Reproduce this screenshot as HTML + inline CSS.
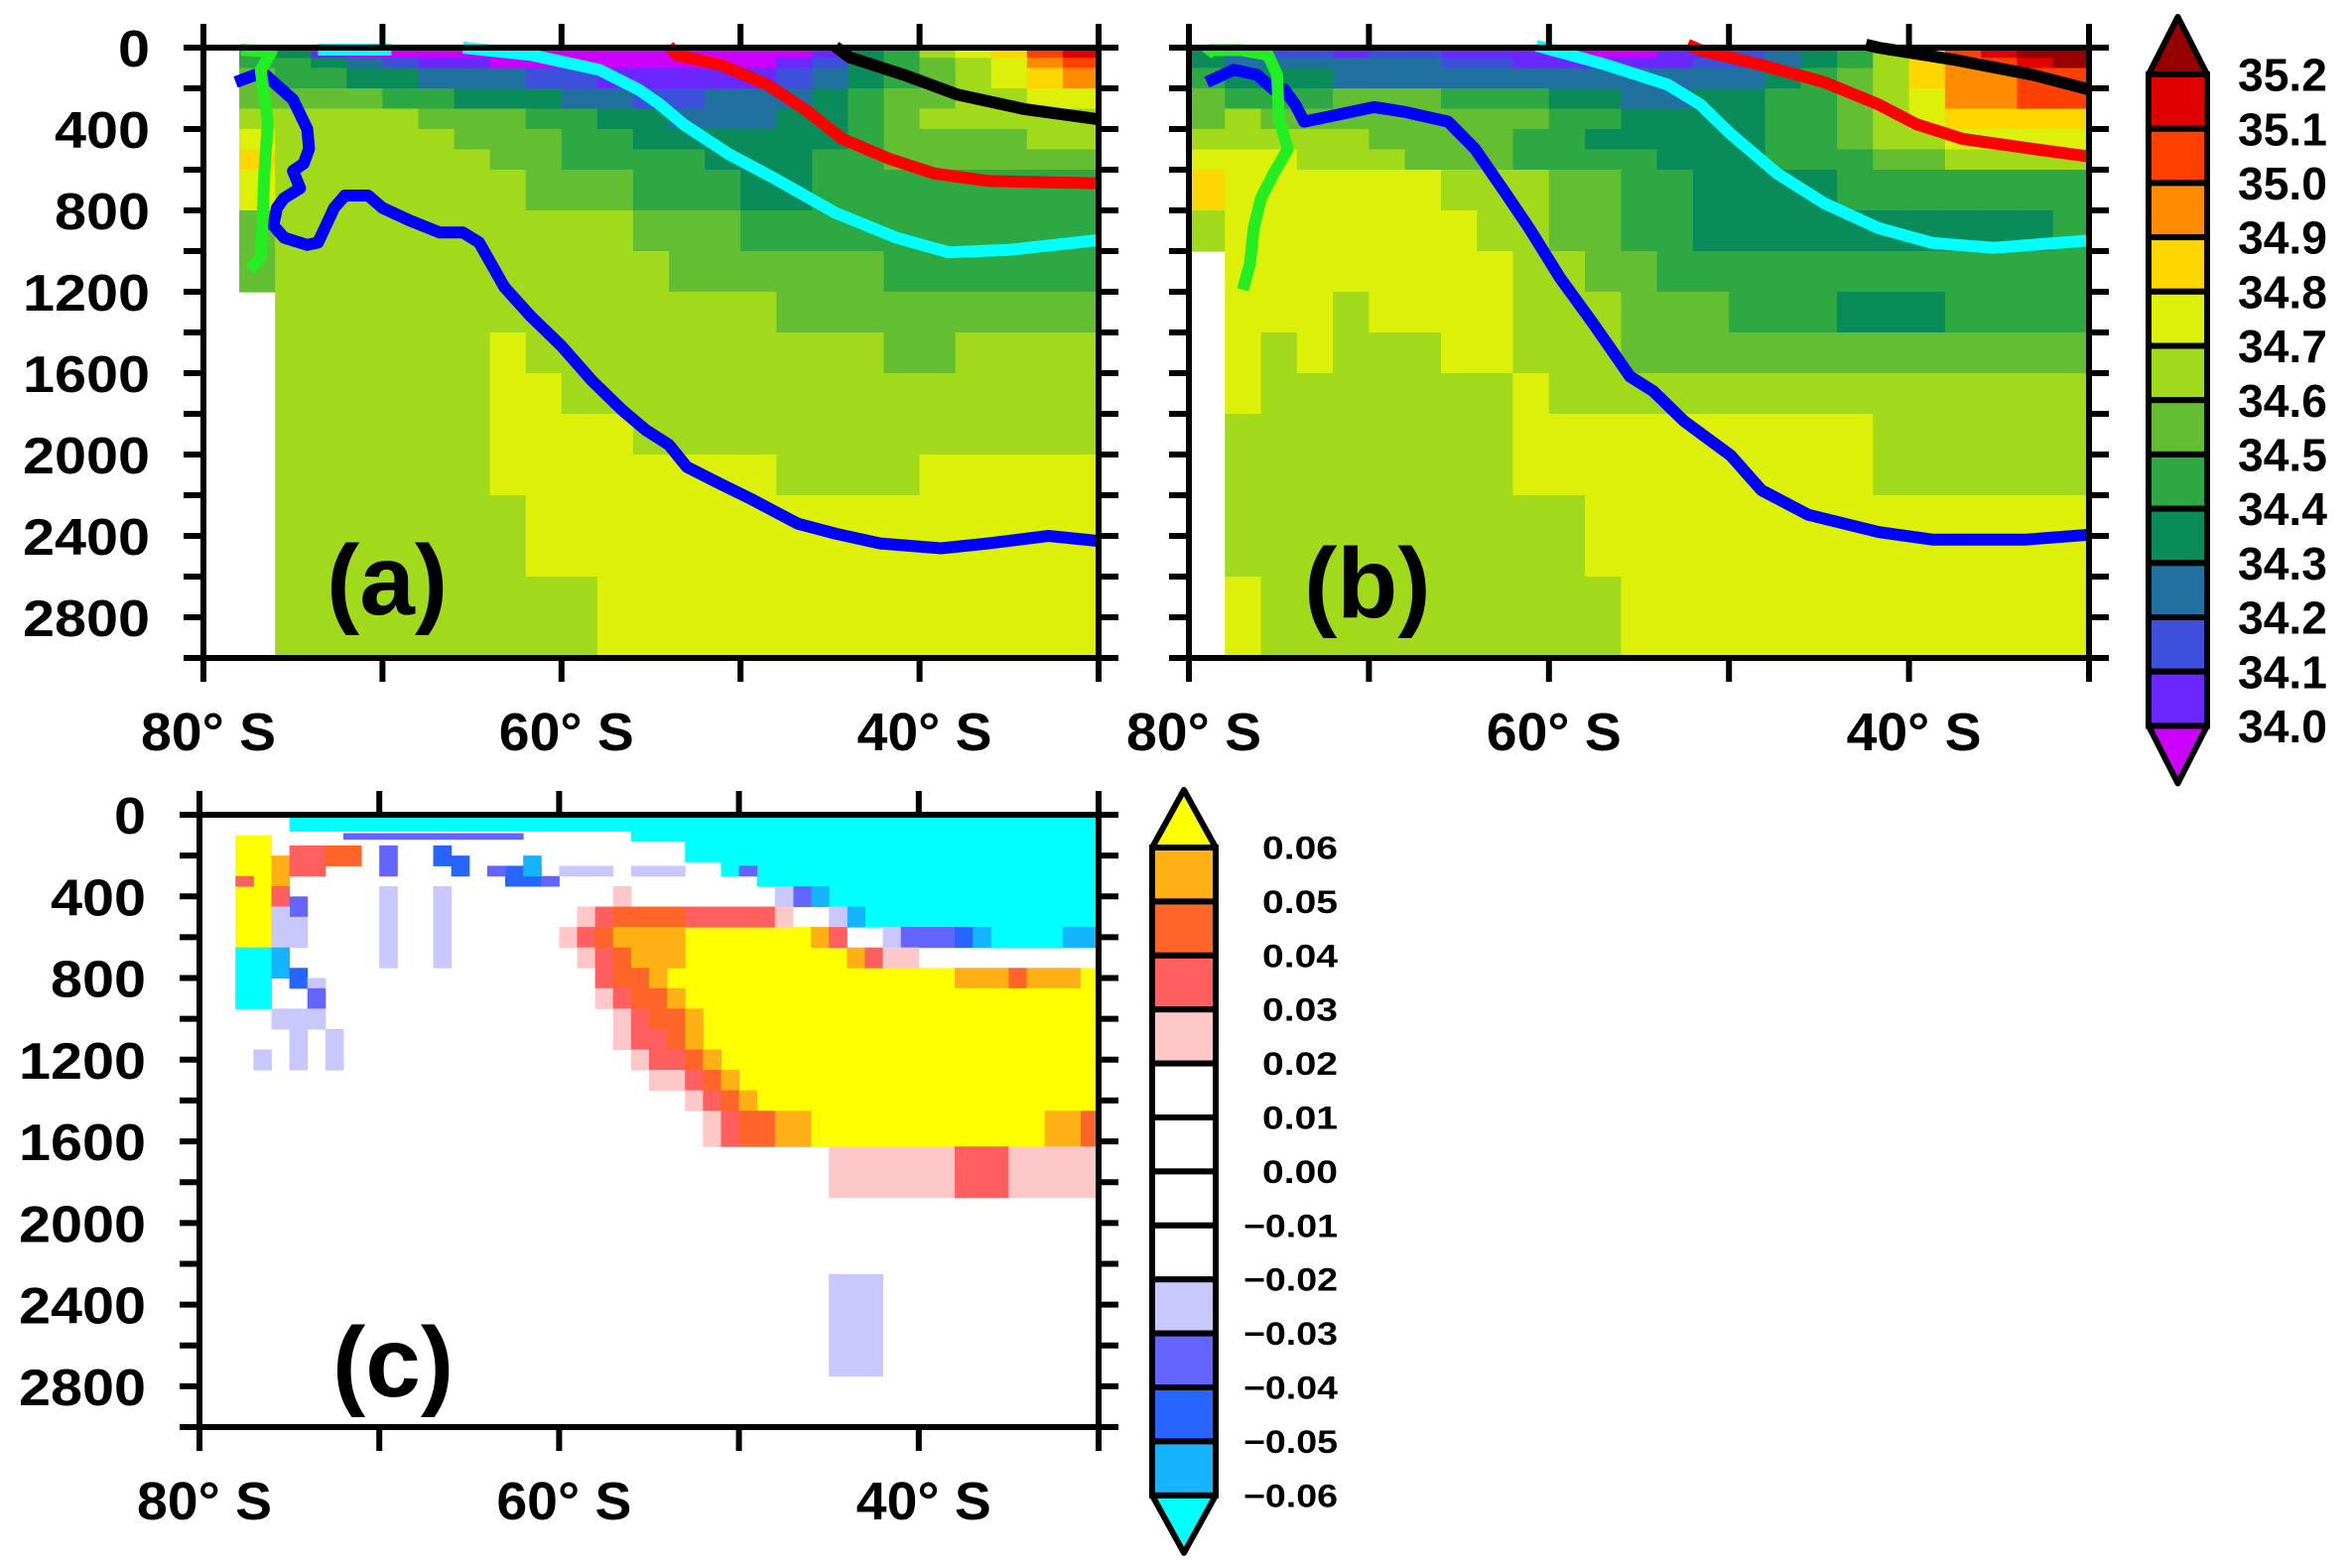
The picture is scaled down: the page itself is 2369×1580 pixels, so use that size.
<!DOCTYPE html>
<html><head><meta charset="utf-8"><style>
html,body{margin:0;padding:0;background:#fff;}
svg{display:block;font-family:"Liberation Sans",sans-serif;font-weight:bold;}
</style></head><body>
<svg id="fig" xmlns="http://www.w3.org/2000/svg" width="2369" height="1580" viewBox="0 0 2369 1580"></svg>
<script>
const N=null;
const latEdges=[80,78,76,74,72,70,68,66,64,62,60,58,56,54,52,50,48,46,44,42,40,38,36,34,32,30];
const depthEdges=[0,50,100,200,300,400,500,600,800,1000,1200,1400,1600,1800,2000,2200,2400,2600,3000];
const yTicks=[0,400,800,1200,1600,2000,2400,2800];
const xTickLabels=[80,60,40];
const salLevels=[35.2,35.1,35.0,34.9,34.8,34.7,34.6,34.5,34.4,34.3,34.2,34.1,34.0];
const anomLevels=[0.06,0.05,0.04,0.03,0.02,0.01,0.00,-0.01,-0.02,-0.03,-0.04,-0.05,-0.06];
const salA=[
[N,34.45,34.35,34.05,33.95,33.95,33.95,33.95,33.95,33.95,33.95,33.95,33.95,33.95,33.95,33.95,33.95,34.05,34.35,34.45,34.65,34.75,34.85,35.05,35.15],
[N,34.45,34.45,34.35,34.25,34.15,34.05,34.05,33.95,33.95,33.95,33.95,33.95,33.95,33.95,33.95,34.05,34.15,34.35,34.45,34.55,34.65,34.75,34.95,35.05],
[N,34.55,34.45,34.45,34.35,34.35,34.25,34.25,34.25,34.15,34.15,34.05,34.05,34.05,34.05,34.05,34.15,34.25,34.35,34.45,34.55,34.65,34.75,34.85,34.95],
[N,34.55,34.55,34.55,34.55,34.45,34.45,34.35,34.35,34.35,34.25,34.25,34.15,34.15,34.25,34.25,34.25,34.35,34.45,34.55,34.55,34.65,34.65,34.75,34.75],
[N,34.65,34.65,34.65,34.65,34.65,34.55,34.55,34.55,34.45,34.45,34.35,34.35,34.25,34.25,34.25,34.35,34.35,34.45,34.55,34.65,34.65,34.65,34.65,34.65],
[N,34.75,34.65,34.65,34.65,34.65,34.65,34.55,34.55,34.55,34.45,34.45,34.35,34.35,34.35,34.35,34.35,34.35,34.45,34.55,34.55,34.55,34.55,34.65,34.65],
[N,34.85,34.65,34.65,34.65,34.65,34.65,34.65,34.55,34.55,34.45,34.45,34.45,34.45,34.35,34.35,34.35,34.45,34.45,34.55,34.55,34.55,34.55,34.55,34.55],
[N,34.75,34.65,34.65,34.65,34.65,34.65,34.65,34.65,34.55,34.55,34.55,34.45,34.45,34.45,34.35,34.35,34.45,34.45,34.45,34.45,34.45,34.45,34.45,34.45],
[N,34.55,34.65,34.65,34.65,34.65,34.65,34.65,34.65,34.65,34.65,34.65,34.55,34.55,34.55,34.45,34.45,34.45,34.45,34.45,34.45,34.45,34.45,34.45,34.45],
[N,34.55,34.65,34.65,34.65,34.65,34.65,34.65,34.65,34.65,34.65,34.65,34.65,34.55,34.55,34.55,34.55,34.55,34.55,34.45,34.45,34.45,34.45,34.45,34.45],
[N,N,34.65,34.65,34.65,34.65,34.65,34.65,34.65,34.65,34.65,34.65,34.65,34.65,34.65,34.65,34.55,34.55,34.55,34.55,34.55,34.55,34.55,34.55,34.55],
[N,N,34.65,34.65,34.65,34.65,34.65,34.65,34.75,34.65,34.65,34.65,34.65,34.65,34.65,34.65,34.65,34.65,34.65,34.55,34.55,34.65,34.65,34.65,34.65],
[N,N,34.65,34.65,34.65,34.65,34.65,34.65,34.75,34.75,34.65,34.65,34.65,34.65,34.65,34.65,34.65,34.65,34.65,34.65,34.65,34.65,34.65,34.65,34.65],
[N,N,34.65,34.65,34.65,34.65,34.65,34.65,34.75,34.75,34.75,34.75,34.65,34.65,34.65,34.65,34.65,34.65,34.65,34.65,34.65,34.65,34.65,34.65,34.65],
[N,N,34.65,34.65,34.65,34.65,34.65,34.65,34.75,34.75,34.75,34.75,34.75,34.75,34.75,34.75,34.65,34.65,34.65,34.65,34.75,34.75,34.75,34.75,34.75],
[N,N,34.65,34.65,34.65,34.65,34.65,34.65,34.65,34.75,34.75,34.75,34.75,34.75,34.75,34.75,34.75,34.75,34.75,34.75,34.75,34.75,34.75,34.75,34.75],
[N,N,34.65,34.65,34.65,34.65,34.65,34.65,34.65,34.75,34.75,34.75,34.75,34.75,34.75,34.75,34.75,34.75,34.75,34.75,34.75,34.75,34.75,34.75,34.75],
[N,N,34.65,34.65,34.65,34.65,34.65,34.65,34.65,34.65,34.65,34.75,34.75,34.75,34.75,34.75,34.75,34.75,34.75,34.75,34.75,34.75,34.75,34.75,34.75]
];
const salB=[
[34.35,34.15,34.15,34.15,34.05,34.15,34.15,34.05,34.05,34.05,33.95,33.95,33.95,34.05,34.05,34.15,34.25,34.35,34.45,34.65,34.75,35.05,35.15,35.25,35.25],
[34.35,34.25,34.25,34.25,34.25,34.25,34.25,34.15,34.15,34.05,34.05,34.05,34.05,34.05,34.15,34.15,34.25,34.35,34.45,34.65,34.85,34.95,35.05,35.15,35.25],
[34.45,34.35,34.35,34.35,34.25,34.25,34.25,34.25,34.25,34.25,34.25,34.25,34.25,34.25,34.25,34.25,34.35,34.45,34.55,34.65,34.85,34.95,34.95,35.05,35.05],
[34.55,34.45,34.45,34.45,34.55,34.55,34.55,34.45,34.45,34.45,34.35,34.35,34.25,34.25,34.35,34.35,34.45,34.45,34.55,34.65,34.75,34.95,34.95,35.05,35.05],
[34.55,34.65,34.55,34.55,34.55,34.55,34.55,34.55,34.55,34.55,34.45,34.45,34.35,34.35,34.35,34.35,34.45,34.45,34.55,34.65,34.75,34.85,34.85,34.85,34.85],
[34.65,34.65,34.65,34.65,34.65,34.55,34.55,34.55,34.55,34.45,34.45,34.35,34.35,34.35,34.35,34.35,34.45,34.45,34.55,34.65,34.65,34.75,34.75,34.75,34.75],
[34.75,34.75,34.75,34.65,34.65,34.65,34.55,34.55,34.55,34.45,34.45,34.45,34.45,34.35,34.35,34.35,34.45,34.45,34.45,34.55,34.55,34.65,34.65,34.65,34.65],
[34.85,34.75,34.75,34.75,34.75,34.75,34.75,34.65,34.65,34.65,34.55,34.55,34.45,34.45,34.35,34.35,34.35,34.35,34.45,34.45,34.45,34.45,34.45,34.45,34.45],
[34.65,34.75,34.75,34.75,34.75,34.75,34.75,34.75,34.65,34.65,34.55,34.55,34.45,34.45,34.35,34.35,34.35,34.35,34.35,34.35,34.35,34.35,34.35,34.35,34.45],
[N,34.75,34.75,34.75,34.75,34.75,34.75,34.75,34.75,34.65,34.65,34.55,34.55,34.45,34.45,34.45,34.45,34.45,34.45,34.45,34.45,34.45,34.45,34.45,34.45],
[N,34.75,34.75,34.75,34.65,34.75,34.75,34.75,34.75,34.65,34.65,34.65,34.55,34.55,34.55,34.45,34.45,34.45,34.35,34.35,34.35,34.45,34.45,34.45,34.45],
[N,34.75,34.65,34.75,34.65,34.65,34.65,34.75,34.75,34.65,34.65,34.65,34.55,34.55,34.55,34.55,34.55,34.55,34.55,34.55,34.55,34.55,34.55,34.55,34.55],
[N,34.75,34.65,34.65,34.65,34.65,34.65,34.65,34.65,34.75,34.65,34.65,34.65,34.65,34.65,34.65,34.65,34.65,34.65,34.65,34.65,34.65,34.65,34.65,34.65],
[N,34.65,34.65,34.65,34.65,34.65,34.65,34.65,34.65,34.75,34.75,34.75,34.75,34.75,34.75,34.75,34.75,34.75,34.75,34.65,34.65,34.65,34.65,34.65,34.65],
[N,34.65,34.65,34.65,34.65,34.65,34.65,34.65,34.65,34.75,34.75,34.75,34.75,34.75,34.75,34.75,34.75,34.75,34.75,34.65,34.65,34.65,34.65,34.65,34.65],
[N,34.65,34.65,34.65,34.65,34.65,34.65,34.65,34.65,34.65,34.65,34.75,34.75,34.75,34.75,34.75,34.75,34.75,34.75,34.75,34.75,34.75,34.75,34.75,34.75],
[N,34.65,34.65,34.65,34.65,34.65,34.65,34.65,34.65,34.65,34.65,34.75,34.75,34.75,34.75,34.75,34.75,34.75,34.75,34.75,34.75,34.75,34.75,34.75,34.75],
[N,34.75,34.65,34.65,34.65,34.65,34.65,34.65,34.65,34.65,34.65,34.65,34.75,34.75,34.75,34.75,34.75,34.75,34.75,34.75,34.75,34.75,34.75,34.75,34.75]
];
const blueA=[[78.2,170],[76.7,121],[75.0,255],[74.2,400],[74.1,497],[74.4,570],[75.0,606],[74.6,691],[75.5,740],[75.9,788],[76.1,873],[75.5,934],[74.2,970],[73.6,958],[72.7,788],[72.1,727],[70.8,727],[70.0,788],[68.5,849],[66.8,909],[65.5,909],[64.6,958],[63.2,1176],[61.7,1322],[60.0,1467],[58.3,1637],[56.6,1782],[55.3,1879],[54.0,1952],[53.0,2061],[51.1,2146],[49.4,2219],[46.8,2340],[44.7,2389],[42.2,2437],[38.8,2461],[36.2,2437],[32.8,2400],[30.0,2425]];
const greenA=[[77.9,10],[76.2,20],[76.8,110],[76.4,370],[76.6,620],[76.7,860],[76.8,1030],[77.4,1090]];
const cyanA1=[[73.6,10],[69.5,10]];
const cyanA2=[[65.5,0],[61.7,36],[57.9,109],[55.7,206],[54.5,279],[53.2,376],[50.7,521],[48.1,643],[44.7,812],[41.3,934],[38.4,1006],[35.0,994],[30.0,946]];
const redA=[[54.0,-10],[53.6,36],[51.1,85],[48.5,182],[46.4,303],[44.3,449],[41.7,546],[39.2,618],[36.2,655],[30.0,667]];
const blackA=[[44.7,-5],[43.9,48],[40.9,133],[37.9,230],[34.1,303],[30.0,352]];
const blueB=[[79.0,170],[77.5,109],[76.2,134],[75.3,206],[74.7,206],[74.1,279],[73.6,364],[72.3,340],[69.7,292],[68.0,316],[65.6,364],[64.1,498],[62.4,717],[61.1,887],[59.4,1130],[57.6,1349],[55.5,1616],[54.2,1689],[52.5,1835],[49.9,2005],[48.2,2175],[45.6,2296],[41.7,2381],[38.7,2418],[33.5,2418],[30.0,2394]];
const greenB=[[79.0,36],[78.8,12],[77.1,12],[75.6,36],[75.1,134],[75.0,352],[74.5,498],[75.3,620],[76.0,741],[76.4,887],[76.6,1057],[77.0,1190]];
const cyanB=[[60.7,-10],[59.8,12],[56.8,85],[53.4,182],[51.6,279],[49.9,425],[47.3,620],[44.7,765],[41.7,887],[38.7,960],[35.3,984],[30.0,948]];
const redB=[[52.3,-15],[51.6,12],[48.2,85],[44.7,170],[41.7,279],[39.6,376],[37.0,449],[33.1,498],[30.0,535]];
const blackB=[[42.4,-15],[41.7,0],[37.4,61],[33.1,134],[30.0,206]];
const anomCells=[
[75,30,0,80,-0.07],[56,30,80,130,-0.07],[53,30,130,230,-0.07],[51,30,230,300,-0.07],[49,30,300,350,-0.07],[45,30,350,450,-0.07],[43,30,450,550,-0.07],[36,32,550,650,-0.07],[32,30,550,650,-0.055],
[46,45,350,450,-0.055],[47,46,350,450,-0.035],[48,47,350,450,-0.025],[57,56,350,450,0.025],
[44,43,450,550,-0.055],[45,44,450,550,-0.025],
[42,41,550,650,-0.025],[41,38,550,650,-0.035],[38,37,550,650,-0.045],[37,36,550,650,-0.055],
[56,53,250,300,-0.025],[50,49,250,300,-0.035],
[72,62,90,120,-0.035],[70,69,150,300,-0.035],[67,66,150,250,-0.045],[66,65,200,300,-0.045],[63,61,250,350,-0.045],[62,61,200,300,-0.055],[64,63,250,300,-0.035],[61,60,300,350,-0.035],[60,57,250,300,-0.025],
[70,69,350,750,-0.025],[67,66,350,750,-0.025],
[78,76,100,650,0.07],[76,75,200,350,0.055],[75,73,150,300,0.035],[73,71,150,250,0.045],[78,77,300,350,0.035],
[76,75,350,450,0.035],[75,74,400,500,-0.035],[76,75,450,650,-0.025],[75,74,500,650,-0.025],
[78,76,650,950,-0.07],[76,75,650,800,-0.055],[75,74,750,850,-0.045],[74,73,800,850,-0.025],[74,73,850,950,-0.035],
[76,73,950,1050,-0.025],[75,74,1050,1250,-0.025],[77,76,1150,1250,-0.025],[73,72,1050,1250,-0.025],
[53,46,550,650,0.07],[53,44,650,750,0.07],[54,38,750,850,0.07],[38,35,750,850,0.055],[35,34,750,850,0.045],[34,31,750,850,0.055],[31,30,750,850,0.07],
[53,30,850,950,0.07],[52,30,950,1150,0.07],[51,30,1150,1250,0.07],[50,30,1250,1350,0.07],[49,30,1350,1450,0.07],[46,33,1450,1625,0.07],[33,31,1450,1625,0.055],[31,30,1450,1625,0.045],
[59,58,450,550,0.025],[58,57,450,550,0.035],[57,53,450,550,0.045],[53,48,450,550,0.035],[48,47,450,550,0.025],
[60,59,550,650,0.025],[59,58,550,650,0.035],[58,57,550,650,0.045],[57,53,550,650,0.055],[46,45,550,650,0.055],[45,44,550,650,0.035],
[59,58,650,750,0.025],[58,57,650,750,0.035],[57,56,650,750,0.045],[56,53,650,750,0.055],[44,43,650,750,0.055],[43,42,650,750,0.035],[42,40,650,750,0.025],
[58,57,750,850,0.035],[57,55,750,850,0.045],[55,54,750,850,0.055],
[58,57,850,950,0.025],[57,56,850,950,0.035],[56,54,850,950,0.045],[54,53,850,950,0.055],
[57,56,950,1050,0.025],[56,55,950,1050,0.035],[55,53,950,1050,0.045],[53,52,950,1050,0.055],
[57,56,1050,1150,0.025],[56,54,1050,1150,0.035],[54,53,1050,1150,0.045],[53,52,1050,1150,0.055],
[56,55,1150,1250,0.025],[55,53,1150,1250,0.035],[53,52,1150,1250,0.045],[52,51,1150,1250,0.055],
[55,53,1250,1350,0.025],[53,52,1250,1350,0.035],[52,51,1250,1350,0.045],[51,50,1250,1350,0.055],
[53,52,1350,1450,0.025],[52,51,1350,1450,0.035],[51,50,1350,1450,0.045],[50,49,1350,1450,0.055],
[52,51,1450,1625,0.025],[51,50,1450,1625,0.035],[50,48,1450,1625,0.045],[48,46,1450,1625,0.055],
[45,38,1625,1875,0.025],[38,35,1625,1875,0.035],[35,30,1625,1875,0.025],[45,42,2250,2750,-0.025]
];
const salColors=["#CC00FF","#6A28FF","#3C50DC","#2070A0","#0A8C5A","#2DA842","#64BE32","#A0DA1A","#DCF00A","#FFD700","#FF8C00","#FF4000","#E00000","#960000"];
const anomColors=["#00FFFF","#14B4FF","#2864FF","#6464FF","#C8C8FF","#FFFFFF","#FFFFFF","#FFFFFF","#FFFFFF","#FFC8C8","#FF5F5F","#FF6428","#FFB014","#FFFF00"];

const NS="http://www.w3.org/2000/svg";
const svg=document.getElementById('fig');
function mk(tag,attrs,parent){const e=document.createElementNS(NS,tag);for(const k in attrs)e.setAttribute(k,attrs[k]);(parent||svg).appendChild(e);return e;}
function salColor(s){let k=Math.floor((s-34.0)/0.1+1e-6)+1;k=Math.max(0,Math.min(13,k));return salColors[k];}
function anomColor(v){let k=Math.floor((v+0.06)/0.01+1e-6)+1;k=Math.max(0,Math.min(13,k));return anomColors[k];}

function makePanel(name,x0,y0,w,h){
  const g=mk('g',{});
  
  
  return {g,x0,y0,w,h,xs:lat=>x0+(80-lat)/50*w,ys:d=>y0+d/3000*h};
}
function drawGrid(P,grid,nm){
  const cg=mk('g',{},P.g);
  
  
  for(let r=0;r<grid.length;r++){for(let c=0;c<grid[r].length;c++){const v=grid[r][c];if(v===null)continue;
    const x1=P.xs(latEdges[c]),x2=P.xs(latEdges[c+1]),y1=P.ys(depthEdges[r]),y2=P.ys(depthEdges[r+1]);
    const e=mk('rect',{x:x1,y:y1,width:x2-x1+0.6,height:y2-y1+0.6,fill:salColor(v)},cg);
    
    
  }}
}
function drawLine(P,pts,color,nm){
  const d=pts.map((p,i)=>(i?'L':'M')+P.xs(p[0]).toFixed(1)+','+P.ys(p[1]).toFixed(1)).join(' ');
  const e=mk('path',{d,fill:'none',stroke:color,'stroke-width':12,'stroke-linejoin':'round','stroke-linecap':'butt'},P.g);
  
  
}
function drawAxes(P,prefix,showY){
  const {x0,y0,w,h}=P;
  const f=mk('rect',{x:x0,y:y0,width:w,height:h,fill:'none',stroke:'#000','stroke-width':6},P.g);
  
  
  for(let d=0;d<=3000;d+=200){const y=P.ys(d);
    const t1=mk('line',{x1:x0-20,x2:x0,y1:y,y2:y,stroke:'#000','stroke-width':6},P.g);
    
    
    const t2=mk('line',{x1:x0+w,x2:x0+w+20,y1:y,y2:y,stroke:'#000','stroke-width':6},P.g);
    
    
  }
  for(let lat=80;lat>=30;lat-=10){const x=P.xs(lat);
    const t1=mk('line',{x1:x,x2:x,y1:y0-24,y2:y0,stroke:'#000','stroke-width':6},P.g);
    
    
    const t2=mk('line',{x1:x,x2:x,y1:y0+h,y2:y0+h+24,stroke:'#000','stroke-width':6},P.g);
    
    
  }
  if(showY){for(const d of yTicks){const s=String(d);
    const t=mk('text',{x:x0-54,y:P.ys(d)+19,'font-size':52,'text-anchor':'end',textLength:s.length*32,lengthAdjust:'spacingAndGlyphs'},P.g);
    t.textContent=s;
    
    
  }}
  for(const lat of xTickLabels){
    const t=mk('text',{x:P.xs(lat)+5,y:y0+h+93,'font-size':54,'text-anchor':'middle',textLength:136,lengthAdjust:'spacingAndGlyphs'},P.g);
    t.textContent=lat+'° S';
    
    
  }
}
function panelLabel(P,txt,x,y,nm){
  const t=mk('text',{x,y,'font-size':100},P.g);
  t.textContent=txt;
  
  
}
function colorbar(nm,x,w,top,boxH,colors,levels,labelX,fs,anchor,tl){
  const g=mk('g',{});
  
  
  const n=colors.length-2;const bot=top+n*boxH;
  const cx=x+w/2;
  const up=mk('path',{d:`M${x},${top} L${cx},${top-58} L${x+w},${top} Z`,fill:colors[colors.length-1],stroke:'#000','stroke-width':6,'stroke-linejoin':'round'},g);
  
  
  const dn=mk('path',{d:`M${x},${bot} L${cx},${bot+58} L${x+w},${bot} Z`,fill:colors[0],stroke:'#000','stroke-width':6,'stroke-linejoin':'round'},g);
  
  
  for(let i=0;i<n;i++){
    const r=mk('rect',{x,y:top+i*boxH,width:w,height:boxH,fill:colors[colors.length-2-i],stroke:'#000','stroke-width':6},g);
    
    
  }
  levels.forEach((lv,i)=>{
    let s=(Math.abs(lv)<1?lv.toFixed(2):lv.toFixed(1)).replace('-','−');
    if(s==='−0.00')s='0.00';
    const t=mk('text',{x:labelX,y:top+i*boxH+fs*0.36,'font-size':fs,'text-anchor':anchor,textLength:tl*s.length/4,lengthAdjust:'spacingAndGlyphs'},g);
    t.textContent=s;
    
    
  });
}

const PA=makePanel('panel-a',205,48,902,615);
drawGrid(PA,salA,'panel-a-salinity-field');
drawLine(PA,blueA,'#0000FF','panel-a-blue-contour');
drawLine(PA,cyanA1,'#00FFFF','panel-a-cyan-contour-segment');
drawLine(PA,cyanA2,'#00FFFF','panel-a-cyan-contour');
drawLine(PA,redA,'#FF0000','panel-a-red-contour');
drawLine(PA,blackA,'#000000','panel-a-black-contour');
drawLine(PA,greenA,'#22EE22','panel-a-green-contour');
drawAxes(PA,'panel-a',true);
panelLabel(PA,'(a)',329,619,'panel-a-label');

const PB=makePanel('panel-b',1198,48,907,615);
drawGrid(PB,salB,'panel-b-salinity-field');
drawLine(PB,blueB,'#0000FF','panel-b-blue-contour');
drawLine(PB,cyanB,'#00FFFF','panel-b-cyan-contour');
drawLine(PB,redB,'#FF0000','panel-b-red-contour');
drawLine(PB,blackB,'#000000','panel-b-black-contour');
drawLine(PB,greenB,'#22EE22','panel-b-green-contour');
drawAxes(PB,'panel-b',false);
panelLabel(PB,'(b)',1314,622,'panel-b-label');

const PC=makePanel('panel-c',201,821,906,617);
const cg=mk('g',{},PC.g);


for(const c of anomCells){
  const x1=PC.xs(c[0]),x2=PC.xs(c[1]),y1=PC.ys(c[2]),y2=PC.ys(c[3]);
  const e=mk('rect',{x:x1,y:y1,width:x2-x1+0.5,height:y2-y1+0.5,fill:anomColor(c[4])},cg);
  
  
}
drawAxes(PC,'panel-c',true);
panelLabel(PC,'(c)',335,1407,'panel-c-label');

colorbar('salinity-colorbar',2165,59,75,54.7,salColors,salLevels,2255,46,'start',90);
colorbar('anomaly-colorbar',1161,64,854,54.4,anomColors,anomLevels,1348,32,'end',76);
</script>
</body></html>
